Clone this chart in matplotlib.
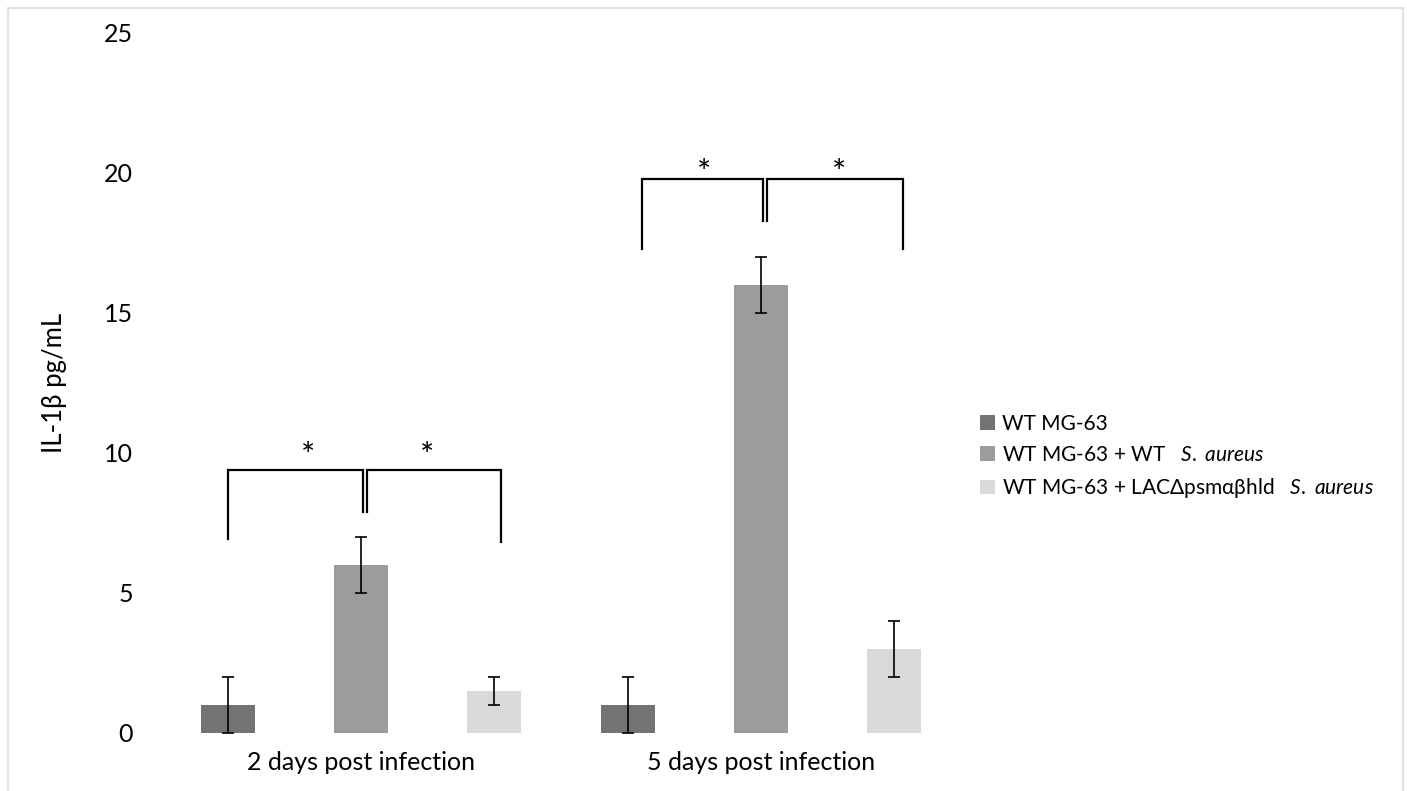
import numpy as np
import matplotlib
matplotlib.use("Agg")
import matplotlib.pyplot as plt
from matplotlib.patches import Rectangle

plt.rcParams['font.family'] = ['Lato', 'DejaVu Sans']
plt.rcParams['mathtext.fontset'] = 'custom'
plt.rcParams['mathtext.rm'] = 'Lato'
plt.rcParams['mathtext.it'] = 'Lato:italic'

# data
groups = ['2 days post infection', '5 days post infection']
series = ['WT MG-63',
          'WT MG-63 + WT   $\\mathit{S.\\ aureus}$',
          'WT MG-63 + LACΔpsmαβhld   $\\mathit{S.\\ aureus}$']
values = [[1, 1], [6, 16], [1.5, 3]]
errors = [[1, 1], [1, 1], [0.5, 1]]
colors = ['#737373', '#9c9c9c', '#d9d9d9']

# significance brackets: (x left, x right, y left foot, y top, y right foot)
brackets = [(-0.3325, 0.005, 6.93, 9.4, 7.9), (0.015, 0.35, 7.9, 9.4, 6.82),
            (0.7025, 1.005, 17.3, 19.8, 18.3), (1.015, 1.355, 18.3, 19.8, 17.3)]
stars_x = [-0.1325, 0.165, 0.8575, 1.195]
stars_y = [9.85, 9.85, 19.95, 19.95]

fig = plt.figure(figsize=(14.07, 7.91), dpi=100)
ax = fig.add_axes([161/1407, 1-733/791, 800/1407, 700/791])

x = np.arange(len(groups))
offs = [-0.3325, 0, 0.3325]
for i in range(3):
    ax.bar(x + offs[i], values[i], width=0.135, color=colors[i], label=series[i],
           yerr=errors[i], error_kw=dict(ecolor='black', elinewidth=1.2, capsize=4.5, capthick=1.2))

for (xl, xr, yl, yt, yr) in brackets:
    ax.plot([xl, xl, xr, xr], [yl, yt, yt, yr], color='black', lw=1.6, solid_joinstyle='miter')
for sx, sy in zip(stars_x, stars_y):
    ax.text(sx, sy, '*', ha='center', va='center', fontsize=24)

ax.set_xlim(-0.5, 1.5)
ax.set_ylim(0, 25)
ax.set_yticks([0, 5, 10, 15, 20, 25])
ax.set_xticks(x)
ax.set_xticklabels(groups)
ax.tick_params(axis='both', length=0, labelsize=18)
ax.tick_params(axis='y', pad=20)
ax.tick_params(axis='x', pad=13)
for s in ax.spines.values():
    s.set_visible(False)
ax.set_ylabel('IL-1β pg/mL', fontsize=18.5)
ax.yaxis.set_label_coords(-0.118, 0.5)

ax.legend(loc='center left', bbox_to_anchor=(970/1407, 1-457/791), bbox_transform=fig.transFigure,
          frameon=False, fontsize=15, handlelength=0.7, handleheight=0.7, handletextpad=0.35,
          labelspacing=0.55, borderpad=0)

fig.patches.append(Rectangle((8/1407, -0.1), 1395/1407, 1.1 - 8/791, transform=fig.transFigure,
                             fill=False, edgecolor='#e0e0e0', lw=1.5))

fig.savefig('out.png', dpi=100)
